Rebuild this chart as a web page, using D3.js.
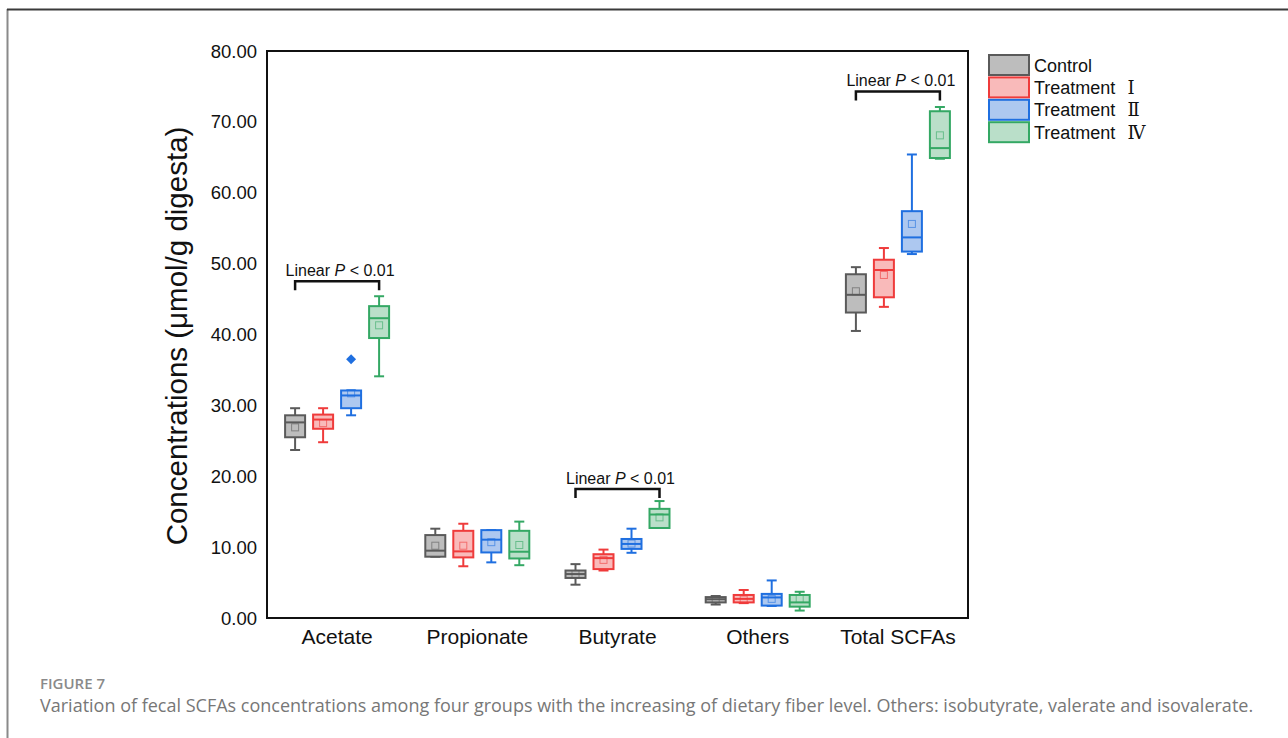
<!DOCTYPE html>
<html>
<head>
<meta charset="utf-8">
<script src="https://cdn.jsdelivr.net/npm/d3@7"></script>
<style>
  body { margin: 0; background: #fff; }
  svg text { font-family: "Liberation Sans", Arial, sans-serif; }
</style>
</head>
<body>
<div id="chart"></div>
<script>
// categories and groups
const categories = ["Acetate", "Propionate", "Butyrate", "Others", "Total SCFAs"];
const groups = ["Control", "Treatment Ⅰ", "Treatment Ⅱ", "Treatment Ⅳ"];

// per category: [low whisker, Q1, median, Q3, high whisker, mean]
const control    = [[23.7, 25.5, 27.6, 28.6, 29.6, 26.9], [8.65, 8.65, 9.5, 11.7, 12.6, 10.2], [4.7, 5.65, 6.2, 6.7, 7.6, 6.2],  [1.9, 2.2, 2.65, 2.95, 3.1, 2.6],  [40.5, 43.1, 45.6, 48.5, 49.5, 46.1]];
const treatment1 = [[24.8, 26.7, 28.0, 28.7, 29.6, 27.5], [7.3, 8.55, 9.4, 12.3, 13.3, 10.2],  [6.7, 6.9, 8.45, 9.0, 9.65, 8.2], [2.1, 2.2, 2.7, 3.25, 3.95, 2.6], [43.9, 45.25, 49.1, 50.55, 52.2, 48.4]];
const treatment2 = [[28.6, 29.6, 31.4, 32.1, 32.1, 31.7], [7.85, 9.25, 11.05, 12.4, 12.4, 10.7], [9.2, 9.75, 10.45, 11.15, 12.6, 10.5], [1.7, 1.75, 2.9, 3.4, 5.3, 2.7], [51.35, 51.7, 53.7, 57.4, 65.4, 55.6]];
const treatment4 = [[34.1, 39.5, 42.3, 44.0, 45.4, 41.3], [7.45, 8.4, 9.35, 12.3, 13.6, 10.3], [12.7, 12.7, 14.6, 15.4, 16.5, 14.2], [1.05, 1.6, 2.2, 3.25, 3.7, 2.7], [64.8, 64.9, 66.3, 71.5, 72.1, 68.1]];
const seriesStats = [control, treatment1, treatment2, treatment4];

const outliers = [{ cat: "Acetate", group: "Treatment Ⅱ", value: 36.5 }];

// linear trend brackets (bracket height in data units)
const trendCats = ["Acetate", "Butyrate", "Total SCFAs"];
const trendY = [47.5, 18.2, 74.3];

const yTicks = [0, 10, 20, 30, 40, 50, 60, 70, 80];

const strokeColors = ["#5a5a5a", "#ef3b3b", "#1f6fe0", "#34a864"];
const fillColors   = ["#bdbdbd", "#f9baba", "#adc8f0", "#badfc9"];

const W = 1288, H = 738;
const svg = d3.select("#chart").append("svg").attr("width", W).attr("height", H);

// outer figure frame
svg.append("line").attr("x1", 7.5).attr("x2", 7.5).attr("y1", 9).attr("y2", H)
  .attr("stroke", "#8a8a8a").attr("stroke-width", 2);
svg.append("line").attr("x1", 7).attr("x2", W).attr("y1", 9.5).attr("y2", 9.5)
  .attr("stroke", "#3a3a3a").attr("stroke-width", 2);

const plot = { left: 267, right: 968, top: 51, bottom: 618 };

const x = d3.scaleBand().domain(categories).range([plot.left, plot.right]);
const xg = d3.scaleBand().domain(groups).range([-56, 56]);
const y = d3.scaleLinear().domain([0, 80]).range([plot.bottom, plot.top]);
const boxW = 20, capW = 10;

// plot frame
svg.append("rect")
  .attr("x", plot.left).attr("y", plot.top)
  .attr("width", plot.right - plot.left).attr("height", plot.bottom - plot.top)
  .attr("fill", "none").attr("stroke", "#111").attr("stroke-width", 2);

// y tick labels
svg.append("g").selectAll("text").data(yTicks).join("text")
  .attr("x", 257).attr("y", d => y(d))
  .attr("text-anchor", "end").attr("dominant-baseline", "central")
  .attr("font-size", 18.5).attr("fill", "#111")
  .text(d => d.toFixed(2));

// x category labels
svg.append("g").selectAll("text").data(categories).join("text")
  .attr("x", d => x(d) + x.bandwidth() / 2).attr("y", 636)
  .attr("text-anchor", "middle").attr("dominant-baseline", "central")
  .attr("font-size", 21).attr("fill", "#111")
  .text(d => d);

// y axis title
svg.append("text")
  .attr("transform", "translate(176,336) rotate(-90)")
  .attr("text-anchor", "middle").attr("dominant-baseline", "central")
  .attr("font-size", 29.5).attr("fill", "#111")
  .text("Concentrations (μmol/g digesta)");

// boxes
const boxData = [];
seriesStats.forEach((stats, gi) => {
  stats.forEach((s, ci) => {
    boxData.push({ gi, cat: categories[ci], lo: s[0], q1: s[1], med: s[2], q3: s[3], hi: s[4], mean: s[5] });
  });
});
const cx = d => x(d.cat) + x.bandwidth() / 2 + xg(groups[d.gi]) + xg.bandwidth() / 2;

const box = svg.append("g").selectAll("g").data(boxData).join("g")
  .attr("stroke", d => strokeColors[d.gi]).attr("stroke-width", 2).attr("fill", "none");

box.append("line")
  .attr("x1", cx).attr("x2", cx).attr("y1", d => y(d.q3)).attr("y2", d => y(d.hi));
box.append("line")
  .attr("x1", cx).attr("x2", cx).attr("y1", d => y(d.q1)).attr("y2", d => y(d.lo));
box.append("line")
  .attr("x1", d => cx(d) - capW / 2).attr("x2", d => cx(d) + capW / 2)
  .attr("y1", d => y(d.hi)).attr("y2", d => y(d.hi));
box.append("line")
  .attr("x1", d => cx(d) - capW / 2).attr("x2", d => cx(d) + capW / 2)
  .attr("y1", d => y(d.lo)).attr("y2", d => y(d.lo));
box.append("rect")
  .attr("x", d => cx(d) - boxW / 2).attr("width", boxW)
  .attr("y", d => y(d.q3)).attr("height", d => y(d.q1) - y(d.q3))
  .attr("fill", d => fillColors[d.gi]);
box.append("line")
  .attr("x1", d => cx(d) - boxW / 2).attr("x2", d => cx(d) + boxW / 2)
  .attr("y1", d => y(d.med)).attr("y2", d => y(d.med));
box.append("rect")
  .attr("x", d => cx(d) - 3.5).attr("y", d => y(d.mean) - 3.5)
  .attr("width", 7).attr("height", 7)
  .attr("stroke-width", 1).attr("stroke-opacity", 0.6);

// outliers
svg.append("g").selectAll("path").data(outliers).join("path")
  .attr("transform", d => `translate(${x(d.cat) + x.bandwidth() / 2 + xg(d.group) + xg.bandwidth() / 2},${y(d.value)}) rotate(45)`)
  .attr("d", "M-3.5,-3.5H3.5V3.5H-3.5Z")
  .attr("fill", strokeColors[2]);

// trend brackets
const xLeft = c => x(c) + x.bandwidth() / 2 + xg(groups[0]) + xg.bandwidth() / 2;
const xRight = c => x(c) + x.bandwidth() / 2 + xg(groups[3]) + xg.bandwidth() / 2;
const tr = svg.append("g").selectAll("g").data(trendCats).join("g");
tr.append("path")
  .attr("d", (c, i) => `M${xLeft(c)},${y(trendY[i]) + 9}V${y(trendY[i])}H${xRight(c)}V${y(trendY[i]) + 9}`)
  .attr("fill", "none").attr("stroke", "#111").attr("stroke-width", 2.5);
const tt = tr.append("text")
  .attr("x", c => (xLeft(c) + xRight(c)) / 2 + 3)
  .attr("y", (c, i) => y(trendY[i]) - 11)
  .attr("text-anchor", "middle").attr("dominant-baseline", "central")
  .attr("font-size", 16).attr("fill", "#111");
tt.append("tspan").text("Linear ");
tt.append("tspan").attr("font-style", "italic").text("P");
tt.append("tspan").text(" < 0.01");

// legend
const lg = svg.append("g").selectAll("g").data(groups).join("g")
  .attr("transform", (d, i) => `translate(989,${55 + i * 22.4})`);
lg.append("rect").attr("width", 40).attr("height", 20)
  .attr("fill", (d, i) => fillColors[i]).attr("stroke", (d, i) => strokeColors[i]).attr("stroke-width", 2);
const lt = lg.append("text").attr("x", 45).attr("y", 10.5)
  .attr("dominant-baseline", "central").attr("font-size", 18).attr("fill", "#111");
lt.append("tspan").text(d => d.split(" ")[0]);
lt.append("tspan").attr("dx", 12)
  .attr("font-family", "'Liberation Serif','DejaVu Serif','Noto Sans CJK SC',serif")
  .text(d => d.split(" ")[1] || "");

// caption
svg.append("text").attr("x", 40).attr("y", 683)
  .attr("dominant-baseline", "central")
  .style("font-family", "'Open Sans','Noto Sans',sans-serif")
  .attr("font-size", 15).attr("font-weight", 600).attr("fill", "#8a8a8a")
  .text("FIGURE 7");
svg.append("text").attr("x", 40).attr("y", 705)
  .attr("dominant-baseline", "central")
  .style("font-family", "'Open Sans','Noto Sans',sans-serif")
  .attr("font-size", 18).attr("fill", "#777")
  .text("Variation of fecal SCFAs concentrations among four groups with the increasing of dietary fiber level. Others: isobutyrate, valerate and isovalerate.");
</script>
</body>
</html>
